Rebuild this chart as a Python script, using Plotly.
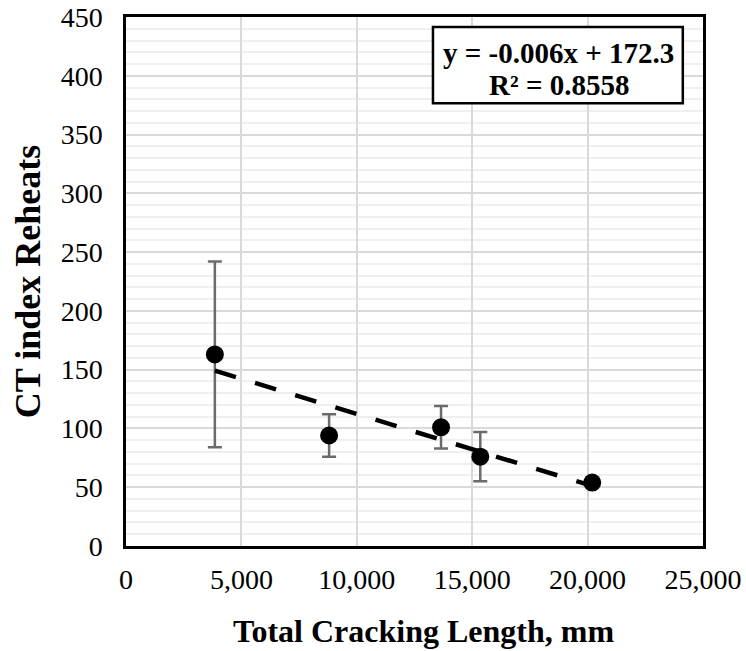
import plotly.graph_objects as go

# Measured specimens: total cracking length vs CT index after reheating
crack_length_mm = [3850, 8800, 13650, 15350, 20200]
ct_index = [163, 94, 101, 76, 54]
ct_error = [79, 18, 18, 21, 0]

# Linear trendline reported on the chart
slope = -0.006
intercept = 172.3
r_squared = 0.8558

x_ticks = [0, 5000, 10000, 15000, 20000, 25000]
y_ticks = [0, 50, 100, 150, 200, 250, 300, 350, 400, 450]

trend_x = [min(crack_length_mm), max(crack_length_mm)]
trend_y = [slope * v + intercept for v in trend_x]

serif = "Liberation Serif, Times New Roman, serif"

fig = go.Figure()

fig.add_trace(go.Scatter(
    x=crack_length_mm, y=ct_index,
    mode="markers",
    marker=dict(color="black", size=18, symbol="circle"),
    error_y=dict(type="data", array=ct_error, visible=True,
                 color="#6b6b6b", thickness=2.5, width=7),
    showlegend=False,
))

fig.add_trace(go.Scatter(
    x=trend_x, y=trend_y,
    mode="lines",
    line=dict(color="black", width=4.5, dash="22px,20px"),
    showlegend=False,
))

fig.update_layout(
    width=746, height=651,
    margin=dict(l=126, r=43, t=17, b=105),
    paper_bgcolor="white",
    plot_bgcolor="white",
    font=dict(family=serif, color="black"),
    xaxis=dict(
        range=[0, 25000],
        tickvals=x_ticks,
        ticktext=[f"{v:,}" for v in x_ticks],
        tickfont=dict(size=28, family=serif, color="black"),
        showgrid=True, gridcolor="#d9d9d9", gridwidth=1.5,
        zeroline=False,
        showline=True, linecolor="black", linewidth=2.5, mirror=True,
        ticks="", ticklabelstandoff=7,
        automargin=False,
    ),
    yaxis=dict(
        range=[0, 450],
        tickvals=y_ticks,
        tickfont=dict(size=28, family=serif, color="black"),
        showgrid=True, gridcolor="#d9d9d9", gridwidth=1.5,
        minor=dict(dtick=10, showgrid=True, gridcolor="#efefef", gridwidth=1.5),
        zeroline=False,
        showline=True, linecolor="black", linewidth=2.5, mirror=True,
        ticks="", ticklabelstandoff=15,
        automargin=False,
        title=dict(text="<b>CT index Reheats</b>",
                   font=dict(size=36, family=serif, color="black"),
                   standoff=10),
    ),
)

# X axis title, centred under the whole chart area
fig.add_annotation(xref="paper", yref="paper", x=0.5156, y=-0.1607,
                   xanchor="center", yanchor="middle", showarrow=False,
                   text="<b>Total Cracking Length, mm</b>",
                   font=dict(size=32, family=serif, color="black"))

# Trendline equation box
fig.add_shape(type="rect", xref="paper", yref="paper",
              x0=0.532, x1=0.965, y0=0.837, y1=0.981,
              line=dict(color="black", width=2.5), fillcolor="white")
fig.add_annotation(xref="paper", yref="paper", x=0.75, y=0.932,
                   xanchor="center", yanchor="middle",
                   text=f"<b>y = {slope}x + {intercept}</b>",
                   showarrow=False, font=dict(size=29, family=serif, color="black"))
fig.add_annotation(xref="paper", yref="paper", x=0.75, y=0.871,
                   xanchor="center", yanchor="middle",
                   text=f"<b>R² = {r_squared}</b>",
                   showarrow=False, font=dict(size=29, family=serif, color="black"))

fig.write_html("out.html")
